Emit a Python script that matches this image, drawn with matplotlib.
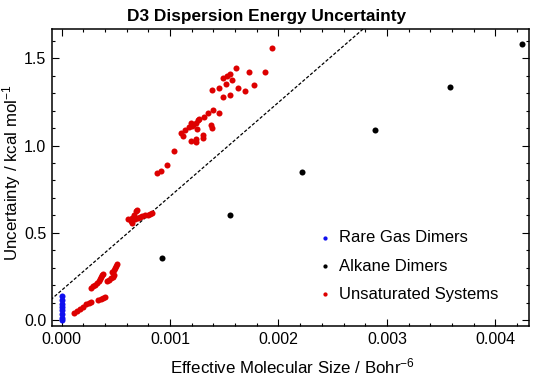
import matplotlib
matplotlib.use("Agg")
import matplotlib.pyplot as plt
from matplotlib.ticker import MultipleLocator, FormatStrFormatter

plt.rcParams['font.family'] = ['Liberation Sans', 'DejaVu Sans']
plt.rcParams['mathtext.fontset'] = 'custom'
plt.rcParams['mathtext.rm'] = 'Liberation Sans'
plt.rcParams['mathtext.it'] = 'Liberation Sans'

# effective molecular size (Bohr^-6, in units of 1e-3) and uncertainty (kcal/mol)
rare_x = [0, 0, 0, 0, 0, 0, 0, 0]
rare_y = [0.137, 0.118, 0.09, 0.078, 0.061, 0.033, 0.015, 0.004]

alkane_x = [0.93, 1.55, 2.22, 2.89, 3.58, 4.25]
alkane_y = [0.358, 0.603, 0.85, 1.09, 1.335, 1.58]

unsat_x = [
    0.115, 0.143, 0.171, 0.198, 0.226, 0.253, 0.272, 0.336, 0.364, 0.382, 0.401,
    0.272, 0.290, 0.309, 0.327, 0.346, 0.355, 0.364, 0.373, 0.382,
    0.419, 0.438, 0.456, 0.475, 0.484, 0.465, 0.484, 0.493, 0.502, 0.512,
    0.613, 0.641, 0.650, 0.668, 0.684, 0.693, 0.677, 0.702, 0.724, 0.745,
    0.770, 0.794, 0.816, 0.837, 0.647,
    0.877, 0.917, 0.970, 1.040, 1.101, 1.117, 1.138, 1.175, 1.191, 1.200,
    1.215, 1.240, 1.252, 1.261, 1.267, 1.191, 1.240, 1.240, 1.307, 1.307,
    1.313, 1.353, 1.375, 1.384, 1.399, 1.452,
    1.390, 1.454, 1.488, 1.491, 1.516, 1.528, 1.553, 1.569, 1.553, 1.606,
    1.630, 1.691, 1.731, 1.774, 1.876, 1.940,
]
unsat_y = [
    0.044, 0.055, 0.067, 0.078, 0.090, 0.101, 0.107, 0.118, 0.124, 0.130, 0.135,
    0.187, 0.198, 0.204, 0.215, 0.227, 0.238, 0.250, 0.261, 0.267,
    0.227, 0.233, 0.244, 0.250, 0.261, 0.278, 0.290, 0.301, 0.313, 0.324,
    0.581, 0.570, 0.587, 0.604, 0.627, 0.633, 0.581, 0.587, 0.589, 0.594,
    0.600, 0.604, 0.610, 0.614, 0.558,
    0.842, 0.855, 0.886, 0.968, 1.074, 1.055, 1.086, 1.105, 1.128, 1.109,
    1.118, 1.131, 1.094, 1.147, 1.154, 1.027, 1.040, 1.023, 1.061, 1.044,
    1.166, 1.185, 1.118, 1.103, 1.206, 1.185,
    1.318, 1.328, 1.277, 1.385, 1.351, 1.398, 1.410, 1.375, 1.290, 1.446,
    1.328, 1.314, 1.419, 1.349, 1.423, 1.557,
]

# fitted guide line
fit_intercept = 0.171
fit_slope = 538.0

fig = plt.figure(figsize=(5.34, 3.81), dpi=100)
ax = fig.add_axes([0.0974, 0.1444, 0.8932, 0.7795])

to_x = lambda v: [a * 1e-3 for a in v]

xs = [-0.0001, 0.0045]
ax.plot(xs, [fit_intercept + fit_slope * x for x in xs], color='black',
        lw=0.9, dashes=(2.6, 1.5), zorder=1)

ax.scatter(to_x(rare_x), rare_y, s=19, color='#1010ee', lw=0, label='Rare Gas Dimers', zorder=3)
ax.scatter(to_x(alkane_x), alkane_y, s=19, color='black', lw=0, label='Alkane Dimers', zorder=3)
ax.scatter(to_x(unsat_x), unsat_y, s=19, color='#dd0000', lw=0, label='Unsaturated Systems', zorder=3)

ax.set_xlim(-0.000088, 0.00431)
ax.set_ylim(-0.033, 1.667)

ax.xaxis.set_major_locator(MultipleLocator(0.001))
ax.xaxis.set_minor_locator(MultipleLocator(0.0002))
ax.yaxis.set_major_locator(MultipleLocator(0.5))
ax.yaxis.set_minor_locator(MultipleLocator(0.1))
ax.xaxis.set_major_formatter(FormatStrFormatter('%.3f'))
ax.yaxis.set_major_formatter(FormatStrFormatter('%.1f'))
ax.tick_params(which='both', direction='in', top=True, right=True, width=0.8)
ax.tick_params(which='major', length=5, labelsize=11.5, pad=4)
ax.tick_params(which='minor', length=2.5)
for s in ax.spines.values():
    s.set_linewidth(1.1)

ax.set_title('D3 Dispersion Energy Uncertainty', fontsize=12.4, fontweight='bold',
             pad=6, x=0.449)
ax.set_xlabel('Effective Molecular Size / Bohr$^{-6}$', fontsize=12.2)
ax.xaxis.set_label_coords(0.504, -0.102)
ax.set_ylabel('Uncertainty / kcal mol$^{-1}$', fontsize=12.2)
ax.yaxis.set_label_coords(-0.061, 0.517)

ax.legend(loc='upper left', bbox_to_anchor=(0.54, 0.345), frameon=False,
          fontsize=12, markerscale=0.7, handletextpad=0.35, labelspacing=0.8,
          handlelength=1.0, borderaxespad=0)

fig.savefig('out.png', dpi=100)
